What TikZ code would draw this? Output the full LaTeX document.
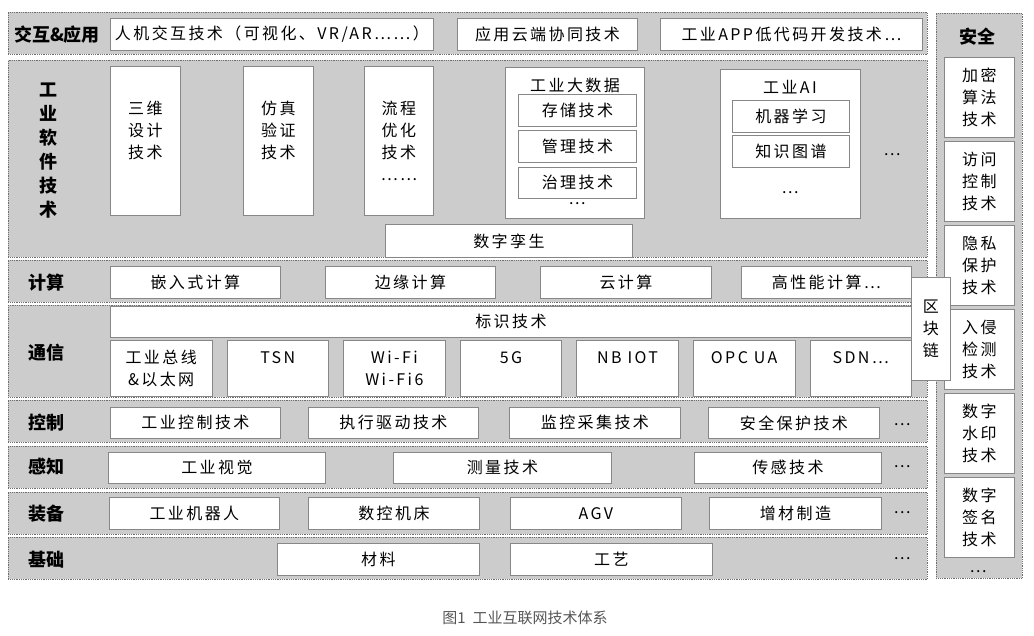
\documentclass[tikz,border=0pt]{standalone}
\usepackage{fontspec}
\setmainfont{Noto Sans CJK SC}
\newfontfamily\boxfont{Noto Sans CJK SC}[LetterSpace=15]
\usepackage{tikz}
\usetikzlibrary{positioning}
\definecolor{layergray}{RGB}{204,204,204}
\definecolor{edgegray}{RGB}{110,110,110}
\definecolor{boxgray}{RGB}{135,135,135}
\definecolor{capgray}{RGB}{85,85,85}

\begin{document}
\begin{tikzpicture}[
        x=1pt, y=-1pt,
        font=\boxfont\fontsize{16}{22}\selectfont,
        layer/.style={rectangle, densely dotted, draw=edgegray, fill=layergray, line width=0.8pt, inner sep=0pt, anchor=north west},
        tbox/.style={rectangle, draw=boxgray, fill=white, line width=0.8pt, inner sep=0pt, anchor=north west, align=center},
        lbl/.style={font=\fontsize{18}{24}\selectfont\bfseries, align=center},
        more/.style={inner sep=0pt}
    ]
    \useasboundingbox (0,0) rectangle (1034,636);

    % security column
    \node[layer, minimum width=86, minimum height=565] (lsafe) at (936,13) {};
    \node[lbl] (tsafe) at (977,37) {安全};
    \node[tbox, minimum width=70, minimum height=80] (z1) at (944,57) {加密\\算法\\技术};
    \node[tbox, minimum width=70, minimum height=80] (z2) at (944,141) {访问\\控制\\技术};
    \node[tbox, minimum width=70, minimum height=80] (z3) at (944,225) {隐私\\保护\\技术};
    \node[tbox, minimum width=70, minimum height=80] (z4) at (944,309) {入侵\\检测\\技术};
    \node[tbox, minimum width=70, minimum height=80] (z5) at (944,393) {数字\\水印\\技术};
    \node[tbox, minimum width=70, minimum height=80] (z6) at (944,477) {数字\\签名\\技术};
    \node[more] (zm) at (978,572) {…};

    % interaction & application
    \node[layer, minimum width=919, minimum height=42] (lapp) at (8,12) {};
    \node[lbl] (tapp) at (57,35) {交互\&应用};
    \node[tbox, minimum width=323, minimum height=32] (a1) at (110,18) {人机交互技术（可视化、VR/AR……）};
    \node[tbox, minimum width=180, minimum height=32] (a2) at (457,18) {应用云端协同技术};
    \node[tbox, minimum width=262, minimum height=32] (a3) at (660,18) {工业APP低代码开发技术…};

    % industrial software
    \node[layer, minimum width=919, minimum height=197] (lsoft) at (8,60) {};
    \node[lbl] (tsoft) at (48,151) {工\\业\\软\\件\\技\\术};
    \node[tbox, minimum width=70, minimum height=149] (s1) at (110,66) {三维\\设计\\技术\\~};
    \node[tbox, minimum width=70, minimum height=149] (s2) at (243,66) {仿真\\验证\\技术\\~};
    \node[tbox, minimum width=69, minimum height=149] (s3) at (364,66) {流程\\优化\\技术\\……};
    \node[tbox, minimum width=139, minimum height=151] (bd) at (505,67) {};
    \node (bdt) at (575,85) {工业大数据};
    \node[tbox, minimum width=118, minimum height=32] (bd1) at (518,94) {存储技术};
    \node[tbox, minimum width=118, minimum height=32] (bd2) at (518,130) {管理技术};
    \node[tbox, minimum width=118, minimum height=31] (bd3) at (518,167) {治理技术};
    \node[more] (bdm) at (577,204) {…};
    \node[tbox, minimum width=140, minimum height=149] (ai) at (720,69) {};
    \node (ait) at (790,87) {工业AI};
    \node[tbox, minimum width=117, minimum height=32] (ai1) at (732,100) {机器学习};
    \node[tbox, minimum width=117, minimum height=32] (ai2) at (732,135) {知识图谱};
    \node[more] (aim) at (790,193) {…};
    \node[more] (sm) at (892,155) {…};
    \node[tbox, minimum width=247, minimum height=33] (twin) at (385,224) {数字孪生};

    % computing
    \node[layer, minimum width=919, minimum height=42] (lcomp) at (8,260) {};
    \node[lbl] (tcomp) at (46,283) {计算};
    \node[tbox, minimum width=170, minimum height=32] (c1) at (110,266) {嵌入式计算};
    \node[tbox, minimum width=170, minimum height=32] (c2) at (325,266) {边缘计算};
    \node[tbox, minimum width=171, minimum height=32] (c3) at (540,266) {云计算};
    \node[tbox, minimum width=170, minimum height=32] (c4) at (741,266) {高性能计算…};

    % communication
    \node[layer, minimum width=919, minimum height=92] (lcomm) at (8,305) {};
    \node[lbl] (tcomm) at (46,353) {通信};
    \node[tbox, minimum width=801, minimum height=31] (ident) at (110,306) {标识技术};
    \node[tbox, minimum width=101.5, minimum height=56] (n1) at (110,340) {工业总线\\\&以太网};
    \node[tbox, minimum width=101.5, minimum height=56] (n2) at (226.6,340) {TSN\\~};
    \node[tbox, minimum width=101.5, minimum height=56] (n3) at (343.2,340) {Wi-Fi\\Wi-Fi6};
    \node[tbox, minimum width=101.5, minimum height=56] (n4) at (459.8,340) {5G\\~};
    \node[tbox, minimum width=101.5, minimum height=56] (n5) at (576.4,340) {NB IOT\\~};
    \node[tbox, minimum width=101.5, minimum height=56] (n6) at (693,340) {OPC UA\\~};
    \node[tbox, minimum width=101.5, minimum height=56] (n7) at (809.6,340) {SDN…\\~};

    % control
    \node[layer, minimum width=919, minimum height=42] (lctrl) at (8,400) {};
    \node[lbl] (tctrl) at (46,423) {控制};
    \node[tbox, minimum width=170, minimum height=31] (k1) at (110,407) {工业控制技术};
    \node[tbox, minimum width=170, minimum height=31] (k2) at (308,407) {执行驱动技术};
    \node[tbox, minimum width=171, minimum height=31] (k3) at (509,407) {监控采集技术};
    \node[tbox, minimum width=171, minimum height=31] (k4) at (708,407) {安全保护技术};
    \node[more] (km) at (902,425) {…};

    % sensing
    \node[layer, minimum width=919, minimum height=42] (lsense) at (8,446) {};
    \node[lbl] (tsense) at (46,467) {感知};
    \node[tbox, minimum width=217, minimum height=31] (p1) at (108,452) {工业视觉};
    \node[tbox, minimum width=218, minimum height=31] (p2) at (393,452) {测量技术};
    \node[tbox, minimum width=187, minimum height=31] (p3) at (694,452) {传感技术};
    \node[more] (pm) at (902,467) {…};

    % equipment
    \node[layer, minimum width=919, minimum height=42] (lequip) at (8,492) {};
    \node[lbl] (tequip) at (46,514) {装备};
    \node[tbox, minimum width=170, minimum height=32] (e1) at (109,497) {工业机器人};
    \node[tbox, minimum width=171, minimum height=32] (e2) at (308,497) {数控机床};
    \node[tbox, minimum width=171, minimum height=32] (e3) at (510,497) {AGV};
    \node[tbox, minimum width=172, minimum height=32] (e4) at (709,497) {增材制造};
    \node[more] (em) at (902,513) {…};

    % basics
    \node[layer, minimum width=919, minimum height=42] (lbase) at (8,537) {};
    \node[lbl] (tbase) at (46,560) {基础};
    \node[tbox, minimum width=202, minimum height=32] (b1) at (277,543) {材料};
    \node[tbox, minimum width=202, minimum height=32] (b2) at (510,543) {工艺};
    \node[more] (bm) at (902,559) {…};

    % blockchain sits over the gap
    \node[tbox, minimum width=39, minimum height=103] (chain) at (911,277) {区\\块\\链};

    \node[font=\fontsize{15}{18}\selectfont, text=capgray] (cap) at (525,618) {图1~~工业互联网技术体系};
\end{tikzpicture}
\end{document}
